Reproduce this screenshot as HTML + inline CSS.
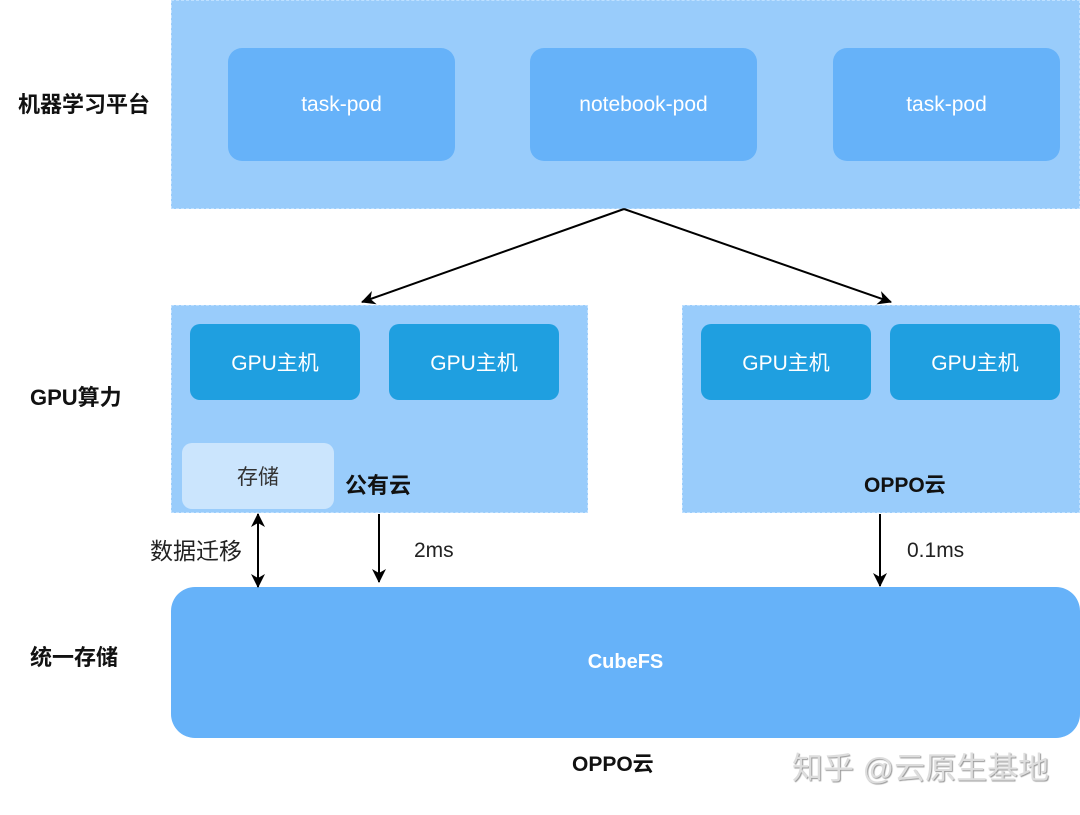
<!DOCTYPE html>
<html><head><meta charset="utf-8"><style>
body{margin:0;width:1080px;height:815px;background:#fff;position:relative;overflow:hidden;font-family:"Liberation Sans","Noto Sans CJK SC",sans-serif}
.a{position:absolute;box-sizing:border-box}
.grp{background:#99ccfb;border:1.5px dashed #bfe0ff}
.pod{background:#66b2f9;border-radius:14px;color:#fff;font-size:21px;display:flex;align-items:center;justify-content:center}
.gpu{background:#1f9fe0;border-radius:10px;color:#fff;font-size:21px;display:flex;align-items:center;justify-content:center}
.lbl{font-weight:bold;font-size:21px;color:#111;line-height:1}
.t{font-size:21px;color:#222;line-height:1}
</style></head><body>
<div class="a grp" style="left:171px;top:0;width:909px;height:209px"></div>
<div class="a pod" style="left:228px;top:48px;width:227px;height:113px">task-pod</div>
<div class="a pod" style="left:530px;top:48px;width:227px;height:113px">notebook-pod</div>
<div class="a pod" style="left:833px;top:48px;width:227px;height:113px">task-pod</div>
<div class="a lbl" style="left:18px;top:94px;font-size:22px">机器学习平台</div>

<div class="a grp" style="left:171px;top:305px;width:417px;height:208px"></div>
<div class="a gpu" style="left:190px;top:324px;width:170px;height:76px">GPU主机</div>
<div class="a gpu" style="left:389px;top:324px;width:170px;height:76px">GPU主机</div>
<div class="a" style="left:182px;top:443px;width:152px;height:66px;background:#cbe5fd;border-radius:10px;color:#333;font-size:21px;display:flex;align-items:center;justify-content:center">存储</div>
<div class="a lbl" style="left:345px;top:475px;font-size:22px">公有云</div>

<div class="a grp" style="left:682px;top:305px;width:398px;height:208px"></div>
<div class="a gpu" style="left:701px;top:324px;width:170px;height:76px">GPU主机</div>
<div class="a gpu" style="left:890px;top:324px;width:170px;height:76px">GPU主机</div>
<div class="a lbl" style="left:864px;top:475px">OPPO云</div>
<div class="a lbl" style="left:30px;top:387px;font-size:22px">GPU算力</div>

<div class="a" style="left:171px;top:587px;width:909px;height:151px;background:#66b2f9;border-radius:24px;color:#fff;font-weight:bold;font-size:20px;display:flex;align-items:center;justify-content:center">CubeFS</div>
<div class="a lbl" style="left:30px;top:647px;font-size:22px">统一存储</div>
<div class="a lbl" style="left:572px;top:754px">OPPO云</div>

<div class="a t" style="left:150px;top:540px;font-size:23px">数据迁移</div>
<div class="a t" style="left:414px;top:540px">2ms</div>
<div class="a t" style="left:907px;top:540px">0.1ms</div>
<div class="a" style="left:792px;top:750px;font-size:31px;color:#ddd;text-shadow:1px 1px 1px #999;line-height:1.2">知乎 @云原生基地</div>

<svg class="a" style="left:0;top:0" width="1080" height="815">
<defs><marker id="m" markerWidth="14" markerHeight="14" refX="13" refY="7" orient="auto-start-reverse" markerUnits="userSpaceOnUse"><path d="M0,0 L14,7 L0,14 L4,7z" fill="#000"/></marker></defs>
<g stroke="#000" stroke-width="2" fill="none">
<line x1="624" y1="209" x2="362" y2="302" marker-end="url(#m)"/>
<line x1="624" y1="209" x2="891" y2="302" marker-end="url(#m)"/>
<line x1="258" y1="514" x2="258" y2="587" marker-end="url(#m)" marker-start="url(#m)"/>
<line x1="379" y1="514" x2="379" y2="582" marker-end="url(#m)"/>
<line x1="880" y1="514" x2="880" y2="586" marker-end="url(#m)"/>
</g>
</svg>
</body></html>
